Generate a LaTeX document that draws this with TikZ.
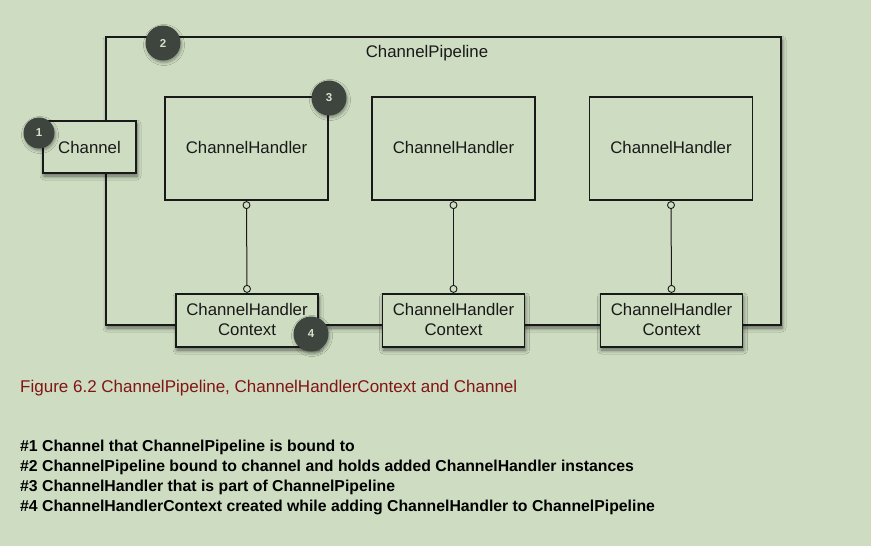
\documentclass[tikz,border=0pt]{standalone}
\usepackage{fontspec}
\setmainfont{Liberation Sans}
\usetikzlibrary{shadows.blur}
\definecolor{bg}{RGB}{206,221,194}
\definecolor{ink}{RGB}{25,25,25}
\definecolor{badge}{RGB}{62,68,62}
\definecolor{cap}{RGB}{130,20,20}
\tikzset{
  box/.style={draw=ink, line width=1.2pt, fill=bg, inner sep=0pt},
  shbox/.style={box, blur shadow={shadow xshift=1pt, shadow yshift=-3pt, shadow blur steps=6, shadow opacity=55, shadow blur radius=4pt}},
  lbl/.style={font=\fontsize{16.8}{20}\selectfont, text=ink, align=center},
  bdg/.style={circle, fill=badge, minimum size=35pt, inner sep=0pt, text=bg!85!white, font=\fontsize{11.5}{11.5}\selectfont\bfseries,
    blur shadow={shadow xshift=1pt, shadow yshift=-2pt, shadow blur steps=4, shadow opacity=40, shadow blur radius=3pt}},
  conn/.style={draw=ink, line width=1pt},
  knob/.style={circle, draw=ink, fill=bg, line width=0.9pt, minimum size=7pt, inner sep=0pt},
  legend/.style={anchor=base west, font=\fontsize{15.8}{15.8}\selectfont\bfseries, text=black, inner sep=0pt},
}
\begin{document}
\begin{tikzpicture}[x=1pt, y=-1pt]
\fill[bg] (0,0) rectangle (871,546);
\useasboundingbox (0,0) rectangle (871,546);
% pipeline
\node[shbox, minimum width=675pt, minimum height=288pt] (pipe) at (443.5,181) {};
\node[lbl] (pipelbl) at (427,53) {ChannelPipeline};
% channel
\node[shbox, minimum width=93pt, minimum height=52pt] (chan) at (89.5,147) {};
\node[lbl] at (chan) {Channel};
% handlers
\foreach \i/\x in {1/246.5, 2/453.5, 3/671} {
  \node[box, minimum width=163pt, minimum height=103pt] (h\i) at (\x,148.5) {};
  \node[lbl] (h\i t) at ([yshift=1pt]h\i.center) {ChannelHandler};
}
% contexts
\foreach \i/\x in {1/247, 2/453.5, 3/671.5} {
  \node[shbox, minimum width=142pt, minimum height=53pt] (c\i) at (\x,320.5) {};
  \node[lbl] (c\i t) at ([yshift=1.5pt]c\i.center) {ChannelHandler\\Context};
}
% connectors
\foreach \i in {1,2,3} {
  \node[knob] (ka\i) at ([yshift=-4.5pt]h\i.south) {};
  \node[knob] (kb\i) at ([yshift=4.5pt]c\i.north) {};
  \draw[conn] (ka\i) -- (kb\i);
}
% badges
\node[bdg, minimum size=31pt] (b1) at (39,133) {1};
\node[bdg] (b2) at (163,43) {2};
\node[bdg] (b3) at (329,98) {3};
\node[bdg] (b4) at (311,334) {4};
% caption
\node[anchor=base west, inner sep=0pt, text=cap, font=\fontsize{17}{17}\selectfont] (caption) at (20,392) {Figure 6.2 ChannelPipeline, ChannelHandlerContext and Channel};
% legend
\node[legend] (l1) at (20,451) {\#1 Channel that ChannelPipeline is bound to};
\node[legend] (l2) at (20,471) {\#2 ChannelPipeline bound to channel and holds added ChannelHandler instances};
\node[legend] (l3) at (20,491) {\#3 ChannelHandler that is part of ChannelPipeline};
\node[legend] (l4) at (20,511) {\#4 ChannelHandlerContext created while adding ChannelHandler to ChannelPipeline};
\end{tikzpicture}
\end{document}
